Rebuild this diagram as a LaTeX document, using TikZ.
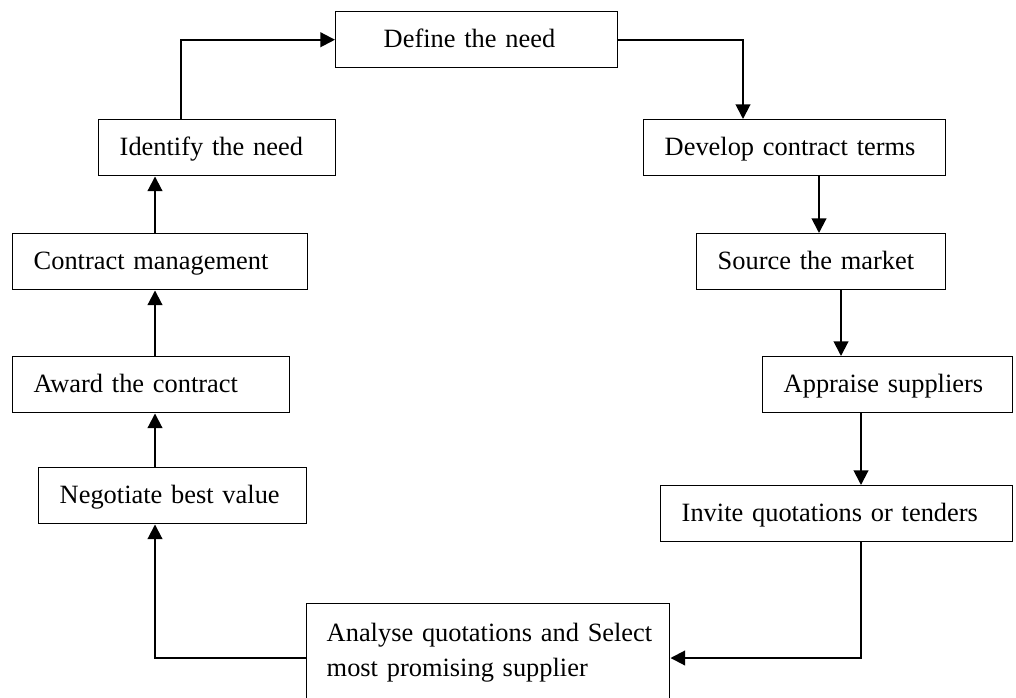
\documentclass[tikz,border=0pt]{standalone}
\usepackage{fontspec}
\setmainfont{Liberation Serif}
\usetikzlibrary{arrows.meta}
\begin{document}
\begin{tikzpicture}[x=0.75pt,y=-0.75pt,
  base/.style={draw, line width=1.1pt, anchor=north west, align=left,
    inner xsep=15.75pt, inner ysep=0pt, minimum height=42pt},
  bx/.style={base, text height=14.6pt, text depth=3.6pt,
    font=\fontsize{19.8pt}{24pt}\selectfont},
  arr/.style={line width=1.5pt, -{Triangle[width=11pt,length=11pt]}}]
\useasboundingbox (0,0) rectangle (1016,698);
% nodes
\node[bx, inner xsep=36pt, text width=139.5pt] (define) at (335,11) {Define the need};
\node[bx, text width=146.25pt] (ident) at (98,119) {Identify the need};
\node[bx, text width=189.75pt] (contract) at (12,233) {Contract management};
\node[bx, text width=176.25pt] (award) at (12,356) {Award the contract};
\node[bx, text width=169.5pt] (negot) at (38,467) {Negotiate best value};
\node[bx, text width=195pt] (develop) at (643,119) {Develop contract terms};
\node[bx, text width=155.25pt] (source) at (696,233) {Source the market};
\node[bx, text width=156pt] (apprais) at (762,356) {Appraise suppliers};
\node[bx, text width=232.5pt] (invite) at (660,485) {Invite quotations or tenders};
\node[base, inner xsep=15pt, text width=242.25pt, minimum height=72.75pt,
  font=\fontsize{19.8pt}{26.25pt}\selectfont] (analyse) at (306,603)
  {\mbox{Analyse quotations and Select}\\\mbox{most promising supplier}};
% guide coordinates
\coordinate (xa) at (181,0);
\coordinate (xb) at (743,0);
\coordinate (xc) at (819,0);
\coordinate (xd) at (841,0);
\coordinate (xe) at (861,0);
\coordinate (xf) at (155,0);
\coordinate (yl) at (0,658);
% connectors
\draw[arr] (ident.north -| xa) |- (define.west);
\draw[arr] (define.east) -| (develop.north -| xb);
\draw[arr] (develop.south -| xc) -- (source.north -| xc);
\draw[arr] (source.south -| xd) -- (apprais.north -| xd);
\draw[arr] (apprais.south -| xe) -- (invite.north -| xe);
\draw[arr] (invite.south -| xe) |- (analyse.east |- yl);
\draw[arr] (analyse.west |- yl) -| (negot.south -| xf);
\draw[arr] (negot.north -| xf) -- (award.south -| xf);
\draw[arr] (award.north -| xf) -- (contract.south -| xf);
\draw[arr] (contract.north -| xf) -- (ident.south -| xf);
\end{tikzpicture}
\end{document}
